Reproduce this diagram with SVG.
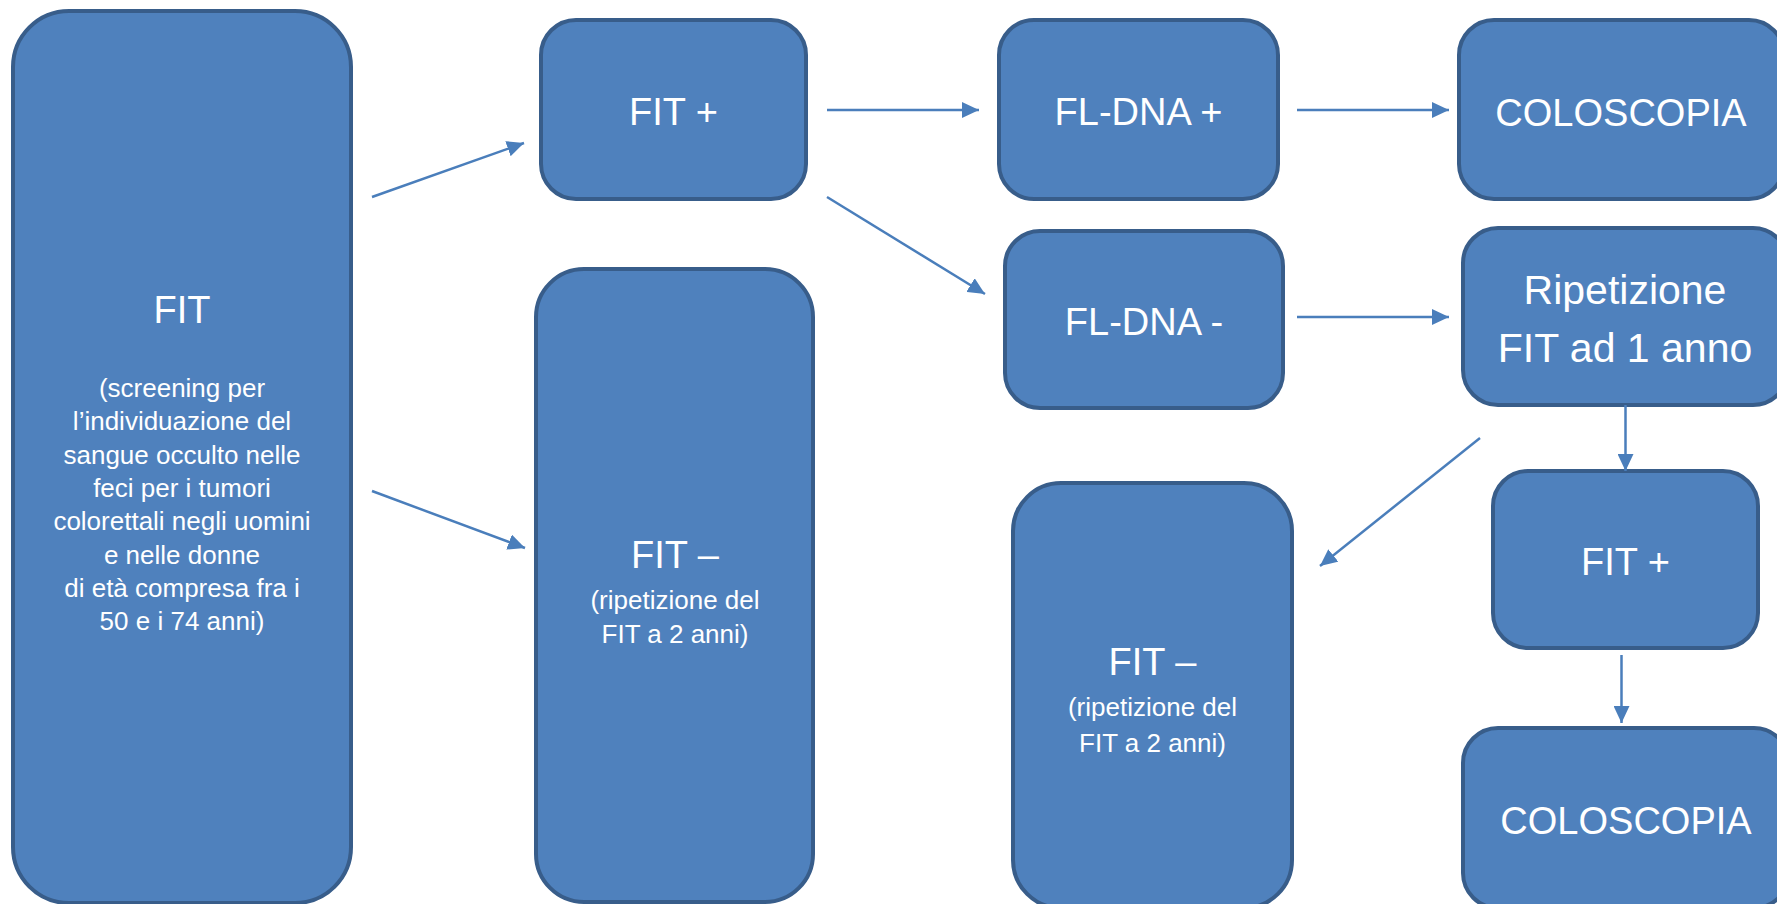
<svg xmlns="http://www.w3.org/2000/svg" width="1777" height="904" viewBox="0 0 1777 904">
<style>
.box{fill:#4F81BD;stroke:#385D8A;stroke-width:4}
.big{font-family:"Liberation Sans",Arial,sans-serif;font-size:38px;fill:#FFFFFF;text-anchor:middle}
.mid{font-family:"Liberation Sans",Arial,sans-serif;font-size:41px;fill:#FFFFFF;text-anchor:middle}
.sm{font-family:"Liberation Sans",Arial,sans-serif;font-size:26px;fill:#FFFFFF;text-anchor:middle}
.conn{stroke:#4A7EBB;stroke-width:2.5;fill:none;marker-end:url(#ah)}
</style>
<defs>
<marker id="ah" markerUnits="userSpaceOnUse" markerWidth="18" markerHeight="16" refX="17" refY="8" orient="auto">
<path d="M0,0 L17,8 L0,16 Z" fill="#4A7EBB"/>
</marker>
</defs>
<rect width="1777" height="904" fill="#FFFFFF"/>
<g id="n-fit">
<rect class="box" x="13" y="11" width="338" height="892" rx="56"/>
<text class="big" x="182" y="323">FIT</text>
<text class="sm" x="182" y="397">(screening per</text>
<text class="sm" x="182" y="430">l’individuazione del</text>
<text class="sm" x="182" y="463.5">sangue occulto nelle</text>
<text class="sm" x="182" y="497">feci per i tumori</text>
<text class="sm" x="182" y="530">colorettali negli uomini</text>
<text class="sm" x="182" y="563.5">e nelle donne</text>
<text class="sm" x="182" y="597">di età compresa fra i</text>
<text class="sm" x="182" y="630">50 e i 74 anni)</text>
</g>
<g id="n-fitplus1">
<rect class="box" x="541" y="20" width="265" height="179" rx="35"/>
<text class="big" x="673.5" y="125">FIT +</text>
</g>
<g id="n-fitminus1">
<rect class="box" x="536" y="269" width="277" height="633" rx="48"/>
<text class="big" x="675" y="568">FIT –</text>
<text class="sm" x="675" y="609">(ripetizione del</text>
<text class="sm" x="675" y="643">FIT a 2 anni)</text>
</g>
<g id="n-fldnaplus">
<rect class="box" x="999" y="20" width="279" height="179" rx="35"/>
<text class="big" x="1138.5" y="125">FL-DNA +</text>
</g>
<g id="n-fldnaminus">
<rect class="box" x="1005" y="231" width="278" height="177" rx="35"/>
<text class="big" x="1144" y="335">FL-DNA -</text>
</g>
<g id="n-colo1">
<rect class="box" x="1459" y="20" width="325" height="179" rx="35"/>
<text class="big" x="1621" y="126">COLOSCOPIA</text>
</g>
<g id="n-ripetizione">
<rect class="box" x="1463" y="228" width="325" height="177" rx="35"/>
<text class="mid" x="1625" y="304">Ripetizione</text>
<text class="mid" x="1625" y="362">FIT ad 1 anno</text>
</g>
<g id="n-fitplus2">
<rect class="box" x="1493" y="471" width="265" height="177" rx="35"/>
<text class="big" x="1625.5" y="575">FIT +</text>
</g>
<g id="n-colo2">
<rect class="box" x="1463" y="728" width="326" height="180" rx="35"/>
<text class="big" x="1626" y="834">COLOSCOPIA</text>
</g>
<g id="n-fitminus2">
<rect class="box" x="1013" y="483" width="279" height="425" rx="48"/>
<text class="big" x="1152.5" y="675">FIT –</text>
<text class="sm" x="1152.5" y="716">(ripetizione del</text>
<text class="sm" x="1152.5" y="752">FIT a 2 anni)</text>
</g>
<g id="connectors">
<line class="conn" x1="372" y1="197" x2="524" y2="143"/>
<line class="conn" x1="372" y1="491" x2="525" y2="548"/>
<line class="conn" x1="827" y1="110" x2="979" y2="110"/>
<line class="conn" x1="827" y1="197" x2="985" y2="294"/>
<line class="conn" x1="1297" y1="110" x2="1449" y2="110"/>
<line class="conn" x1="1297" y1="317" x2="1449" y2="317"/>
<line class="conn" x1="1625.5" y1="405" x2="1625.5" y2="471"/>
<line class="conn" x1="1480" y1="438" x2="1320" y2="566"/>
<line class="conn" x1="1621.5" y1="655" x2="1621.5" y2="723"/>
</g>
</svg>
